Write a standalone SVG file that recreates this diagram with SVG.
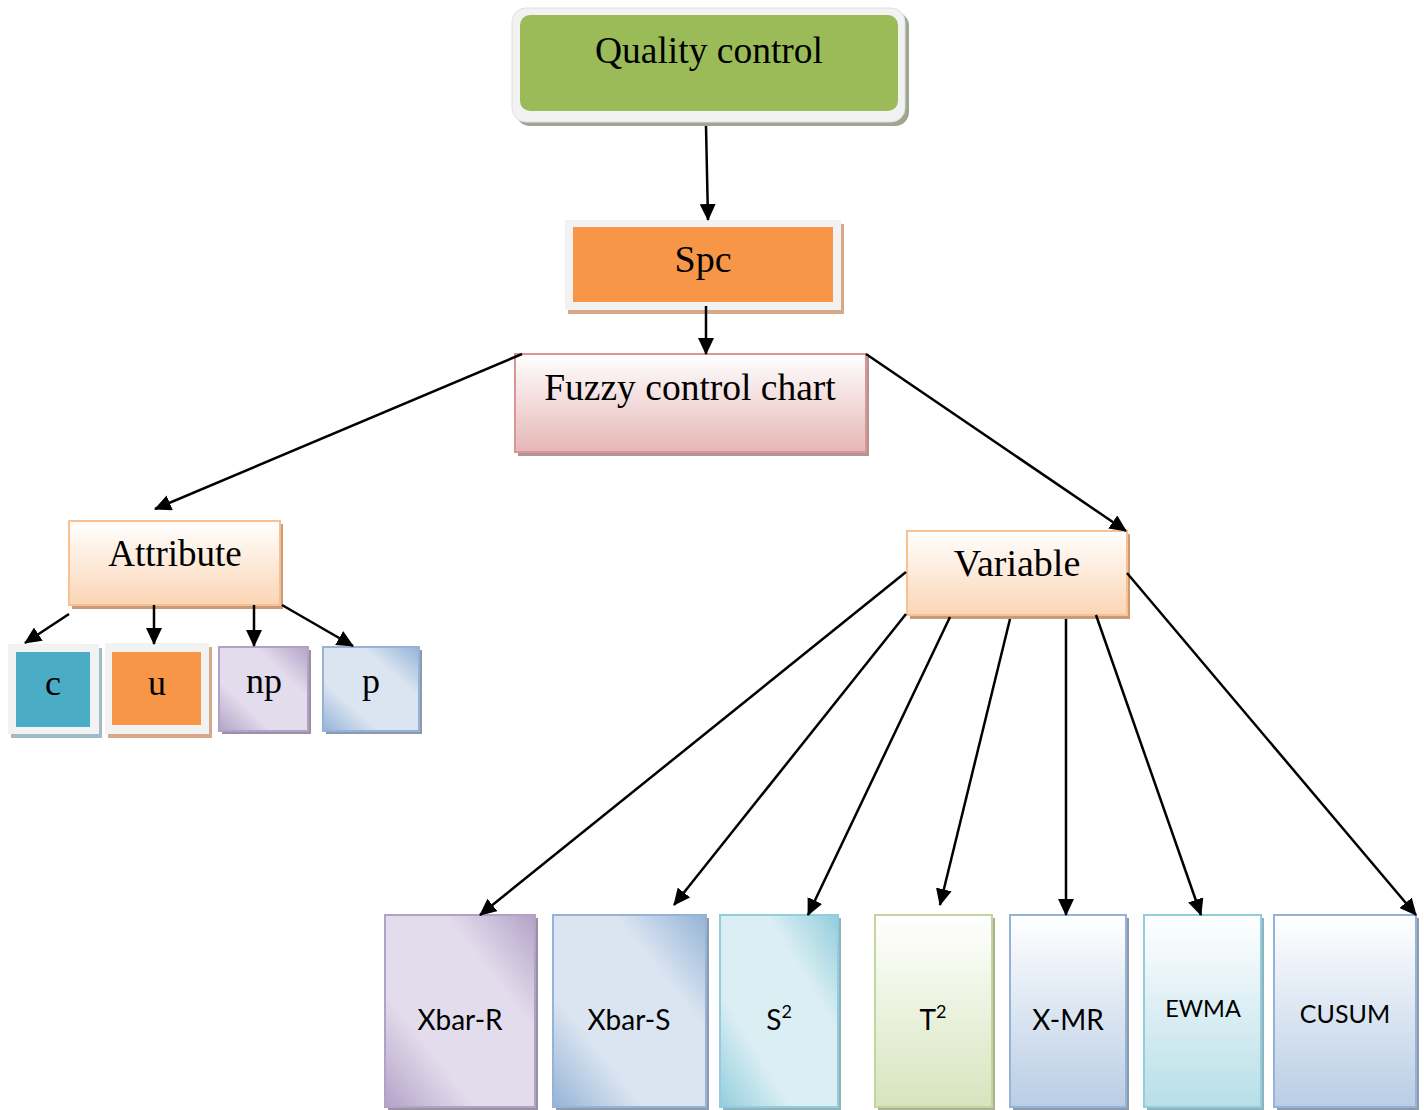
<svg xmlns="http://www.w3.org/2000/svg" width="1424" height="1110" viewBox="0 0 1424 1110">
<style>
.serif{font-family:"Liberation Serif","Times New Roman",serif;fill:#000;text-anchor:middle}
.sans{font-family:Lato,"Open Sans","Liberation Sans",sans-serif;fill:#000;text-anchor:middle;font-size:28px}
.sup{font-size:18px}
.conn line{stroke:#000;stroke-width:2.5;marker-end:url(#arr)}
</style>
<defs>
<marker id="arr" markerUnits="userSpaceOnUse" markerWidth="18" markerHeight="16" refX="16" refY="8" orient="auto">
<path d="M0,0 L17,8 L0,16 Z" fill="#000"/>
</marker>
<linearGradient id="gPink" x1="0" y1="0" x2="0" y2="1"><stop offset="0" stop-color="#fff"/><stop offset="1" stop-color="#e5b7b6"/></linearGradient>
<linearGradient id="gPeach" x1="0" y1="0" x2="0" y2="1"><stop offset="0" stop-color="#fff"/><stop offset="1" stop-color="#fbd5b5"/></linearGradient>
<linearGradient id="gPurp" x1="0" y1="1" x2="1" y2="0"><stop offset="0" stop-color="#b3a2c7"/><stop offset="0.3" stop-color="#e3dcec"/><stop offset="0.7" stop-color="#e3dcec"/><stop offset="1" stop-color="#b3a2c7"/></linearGradient>
<linearGradient id="gBlueD" x1="0" y1="1" x2="1" y2="0"><stop offset="0" stop-color="#95b3d7"/><stop offset="0.3" stop-color="#dbe5f1"/><stop offset="0.7" stop-color="#dbe5f1"/><stop offset="1" stop-color="#95b3d7"/></linearGradient>
<linearGradient id="gCyanD" x1="0" y1="1" x2="1" y2="0"><stop offset="0" stop-color="#93cddd"/><stop offset="0.3" stop-color="#daeef3"/><stop offset="0.7" stop-color="#daeef3"/><stop offset="1" stop-color="#93cddd"/></linearGradient>
<linearGradient id="gGreenV" x1="0" y1="0" x2="0" y2="1"><stop offset="0" stop-color="#fff"/><stop offset="1" stop-color="#d7e4bd"/></linearGradient>
<linearGradient id="gBlueV" x1="0" y1="0" x2="0" y2="1"><stop offset="0" stop-color="#fff"/><stop offset="1" stop-color="#b9cde5"/></linearGradient>
<linearGradient id="gCyanV" x1="0" y1="0" x2="0" y2="1"><stop offset="0" stop-color="#fff"/><stop offset="1" stop-color="#b7dee8"/></linearGradient>
</defs>
<rect width="1424" height="1110" fill="#fff"/>

<g id="quality-control">
<rect x="516" y="12" width="393" height="114" rx="14" fill="#9fa58f"/>
<rect x="512" y="8" width="393" height="114" rx="14" fill="#f2f2f2" stroke="#e0e0e0"/>
<rect x="520" y="15" width="378" height="96" rx="10" fill="#9bbb59"/>
<text class="serif" x="709" y="63" font-size="37.5">Quality control</text>
</g>

<g id="spc">
<rect x="568" y="224" width="276" height="90" fill="#d5a98a"/>
<rect x="565" y="220" width="276" height="90" fill="#f2f2f2"/>
<rect x="573" y="227" width="260" height="75" fill="#f79646"/>
<text class="serif" x="703" y="272" font-size="38">Spc</text>
</g>

<g id="fuzzy-control-chart">
<rect x="518" y="357" width="351" height="99" fill="#b39494"/>
<rect x="515" y="354" width="351" height="98" fill="url(#gPink)" stroke="#d99694" stroke-width="2"/>
<text class="serif" x="690" y="400" font-size="37.5">Fuzzy control chart</text>
</g>

<g id="attribute">
<rect x="72" y="524" width="211" height="85" fill="#c89c7a"/>
<rect x="69" y="521" width="211" height="84" fill="url(#gPeach)" stroke="#fac08f" stroke-width="2"/>
<text class="serif" x="175" y="566" font-size="37">Attribute</text>
</g>

<g id="variable">
<rect x="910" y="534" width="220" height="85" fill="#c89c7a"/>
<rect x="907" y="531" width="220" height="84" fill="url(#gPeach)" stroke="#fac08f" stroke-width="2"/>
<text class="serif" x="1017" y="576" font-size="38">Variable</text>
</g>

<g id="c">
<rect x="11" y="648" width="91" height="90" fill="#9fbcc4"/>
<rect x="8" y="644" width="91" height="90" fill="#f2f2f2"/>
<rect x="16" y="652" width="74" height="75" fill="#4bacc6"/>
<text class="serif" x="53" y="695" font-size="36">c</text>
</g>

<g id="u">
<rect x="108" y="647" width="104" height="91" fill="#d5a98a"/>
<rect x="105" y="643" width="104" height="91" fill="#f2f2f2"/>
<rect x="112" y="652" width="89" height="73" fill="#f79646"/>
<text class="serif" x="157" y="695" font-size="36">u</text>
</g>

<g id="np">
<rect x="222" y="650" width="89" height="84" fill="#9a92a3"/>
<rect x="219" y="647" width="89" height="84" fill="url(#gPurp)" stroke="#b3a2c7" stroke-width="2"/>
<text class="serif" x="264" y="693" font-size="36">np</text>
</g>

<g id="p">
<rect x="326" y="650" width="96" height="84" fill="#8c9aab"/>
<rect x="323" y="647" width="96" height="84" fill="url(#gBlueD)" stroke="#95b3d7" stroke-width="2"/>
<text class="serif" x="371" y="693" font-size="36">p</text>
</g>

<g id="xbar-r">
<rect x="388" y="918" width="150" height="192" fill="#9a92a3"/>
<rect x="385" y="915" width="150" height="192" fill="url(#gPurp)" stroke="#b3a2c7" stroke-width="2"/>
<text class="sans" x="460" y="1030">Xbar-R</text>
</g>

<g id="xbar-s">
<rect x="556" y="918" width="153" height="192" fill="#8c9aab"/>
<rect x="553" y="915" width="153" height="192" fill="url(#gBlueD)" stroke="#95b3d7" stroke-width="2"/>
<text class="sans" x="629" y="1030">Xbar-S</text>
</g>

<g id="s2">
<rect x="723" y="918" width="118" height="192" fill="#8fb3bd"/>
<rect x="720" y="915" width="118" height="192" fill="url(#gCyanD)" stroke="#93cddd" stroke-width="2"/>
<text class="sans" x="779" y="1030">S<tspan class="sup" dy="-12">2</tspan></text>
</g>

<g id="t2">
<rect x="878" y="918" width="117" height="192" fill="#a8b394"/>
<rect x="875" y="915" width="117" height="192" fill="url(#gGreenV)" stroke="#c3d69b" stroke-width="2"/>
<text class="sans" x="933" y="1030">T<tspan class="sup" dy="-12">2</tspan></text>
</g>

<g id="x-mr">
<rect x="1013" y="918" width="116" height="192" fill="#8c9aab"/>
<rect x="1010" y="915" width="116" height="192" fill="url(#gBlueV)" stroke="#95b3d7" stroke-width="2"/>
<text class="sans" x="1068" y="1030">X-MR</text>
</g>

<g id="ewma">
<rect x="1147" y="918" width="117" height="192" fill="#8fb3bd"/>
<rect x="1144" y="915" width="117" height="192" fill="url(#gCyanV)" stroke="#93cddd" stroke-width="2"/>
<text class="sans" x="1203" y="1017" style="font-size:23.5px">EWMA</text>
</g>

<g id="cusum">
<rect x="1277" y="918" width="142" height="192" fill="#8c9aab"/>
<rect x="1274" y="915" width="142" height="192" fill="url(#gBlueV)" stroke="#95b3d7" stroke-width="2"/>
<text class="sans" x="1345" y="1023" style="font-size:25px">CUSUM</text>
</g>

<g id="connectors" class="conn">
<line x1="706" y1="126" x2="708" y2="220"/>
<line x1="706" y1="306" x2="706" y2="354"/>
<line x1="522" y1="354" x2="155" y2="509"/>
<line x1="866" y1="354" x2="1126" y2="531"/>
<line x1="69" y1="614" x2="25" y2="643"/>
<line x1="154" y1="605" x2="154" y2="644"/>
<line x1="254" y1="605" x2="254" y2="646"/>
<line x1="282" y1="605" x2="353" y2="646"/>
<line x1="906" y1="572" x2="480" y2="915"/>
<line x1="906" y1="614" x2="674" y2="905"/>
<line x1="950" y1="617" x2="808" y2="915"/>
<line x1="1010" y1="619" x2="940" y2="905"/>
<line x1="1066" y1="619" x2="1066" y2="915"/>
<line x1="1096" y1="615" x2="1201" y2="915"/>
<line x1="1127" y1="573" x2="1416" y2="915"/>
</g>
</svg>
